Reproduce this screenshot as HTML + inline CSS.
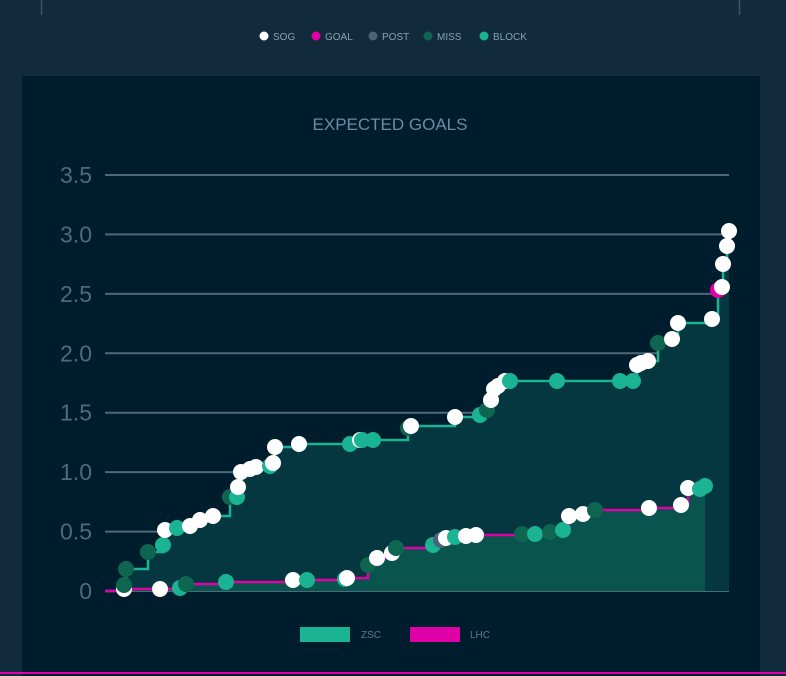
<!DOCTYPE html>
<html><head><meta charset="utf-8"><style>
html,body{margin:0;padding:0;background:#112b3c;width:786px;height:676px;overflow:hidden;font-family:"Liberation Sans",sans-serif}
</style></head><body>
<svg id="s" width="786" height="676" xmlns="http://www.w3.org/2000/svg" style="position:absolute;left:0;top:0">
<rect width="786" height="676" fill="#112b3c"/>
<line x1="41.5" y1="0" x2="41.5" y2="15" stroke="#3b5568" stroke-width="1.5"/>
<line x1="739.5" y1="0" x2="739.5" y2="15" stroke="#3b5568" stroke-width="1.5"/>
<g font-size="10" fill="#8aa0b2">
<circle cx="264" cy="36" r="4.5" fill="#fff"/><text x="273" y="40">SOG</text>
<circle cx="316" cy="36" r="4.5" fill="#e000a8"/><text x="325" y="40">GOAL</text>
<circle cx="373" cy="36" r="4.5" fill="#4a6478"/><text x="382" y="40">POST</text>
<circle cx="428" cy="36" r="4.5" fill="#0e6650"/><text x="437" y="40">MISS</text>
<circle cx="484" cy="36" r="4.5" fill="#1ab394"/><text x="493" y="40">BLOCK</text>
</g>
<rect x="22" y="76" width="738" height="600" fill="#001d2e"/>
<text x="390" y="130" text-anchor="middle" font-size="17" fill="#6f8aa0">EXPECTED GOALS</text>
<g id="grid"></g>
<g id="plot"></g>
<rect x="300" y="627" width="50" height="15" fill="#1ab394"/>
<text x="361" y="638" font-size="10" fill="#5d7890">ZSC</text>
<rect x="410" y="627" width="50" height="15" fill="#e000a8"/>
<text x="470" y="638" font-size="10" fill="#5d7890">LHC</text>
<rect x="0" y="672" width="786" height="2" fill="#e000a8"/>
</svg>
<script>
var ns="http://www.w3.org/2000/svg",g=document.getElementById('grid'),p=document.getElementById('plot');
function el(par,t,a){var e=document.createElementNS(ns,t);for(var k in a)e.setAttribute(k,a[k]);par.appendChild(e);return e}
var labs=["0","0.5","1.0","1.5","2.0","2.5","3.0","3.5"];
var Z=[[124,585,'m'],[126,569,'m'],[148,552,'m'],[163,545,'b'],[165,530,'s'],[177,528,'b'],[190,526,'s'],[200,520,'s'],[213,516,'s'],[230,497,'m'],[237,497,'b'],[238,487,'s'],[241,472,'s'],[250,469,'s'],[256,467,'s'],[270,466,'b'],[273,463,'s'],[275,447,'s'],[299,444,'s'],[350,444,'b'],[360,440,'s'],[362,440,'b'],[373,440,'b'],[408,428,'m'],[411,426,'s'],[455,417,'s'],[480,415,'b'],[487,410,'m'],[491,400,'s'],[494,389,'s'],[498,386,'s'],[505,381,'s'],[510,381,'b'],[557,381,'b'],[620,381,'b'],[633,381,'b'],[658,343,'m'],[637,365,'s'],[641,363,'s'],[648,361,'s'],[672,339,'s'],[678,323,'s'],[712,319,'s'],[718,290,'g'],[722,287,'s'],[723,264,'s'],[727,246,'s'],[729,231,'s']];
var L=[[124,589,'s'],[160,589,'s'],[180,588,'b'],[186,584,'m'],[226,582,'b'],[293,580,'s'],[307,580,'b'],[345,579,'b'],[347,578,'s'],[368,565,'m'],[377,558,'s'],[392,553,'s'],[396,548,'m'],[433,545,'b'],[441,540,'p'],[446,538,'s'],[455,537,'b'],[466,536,'s'],[476,535,'s'],[522,534,'m'],[535,534,'b'],[550,532,'m'],[563,530,'b'],[569,516,'s'],[583,514,'s'],[595,510,'m'],[649,508,'s'],[681,505,'s'],[688,488,'s'],[700,489,'b'],[705,486,'b']];
function step(pts,x0,xe){var d="M"+x0+",591 L"+pts[0][0]+",591",y=591;
 var s=pts.slice().sort(function(a,b){return a[0]-b[0]});
 s.forEach(function(q){d+=" L"+q[0]+","+y+" L"+q[0]+","+q[1];y=q[1]});d+=" L"+xe+","+y;return d}
var zd=step(Z,105,729),ld=step(L,105,705);
el(p,'path',{d:zd+" L729,591 Z",fill:"#04373f"});
el(p,'path',{d:ld+" L705,591 Z",fill:"#0a5450"});
for(var i=0;i<8;i++){var y=591-i*59.43;el(g,'line',{x1:105,x2:729,y1:y,y2:y,stroke:"#4d6a7b","stroke-width":2});
 var t=el(g,'text',{x:92,y:y+8,"text-anchor":"end","font-size":23,fill:"#4f6a7e"});t.textContent=labs[i];}
el(p,'path',{d:zd,fill:"none",stroke:"#1ab394","stroke-width":2.5});
el(p,'path',{d:ld,fill:"none",stroke:"#e000a8","stroke-width":2.5});
var C={s:"#ffffff",g:"#e000a8",p:"#4a6478",m:"#0e6650",b:"#1ab394"};
L.concat(Z).forEach(function(q){el(p,'circle',{cx:q[0],cy:q[1],r:8,fill:C[q[2]]})});
</script>
</body></html>
